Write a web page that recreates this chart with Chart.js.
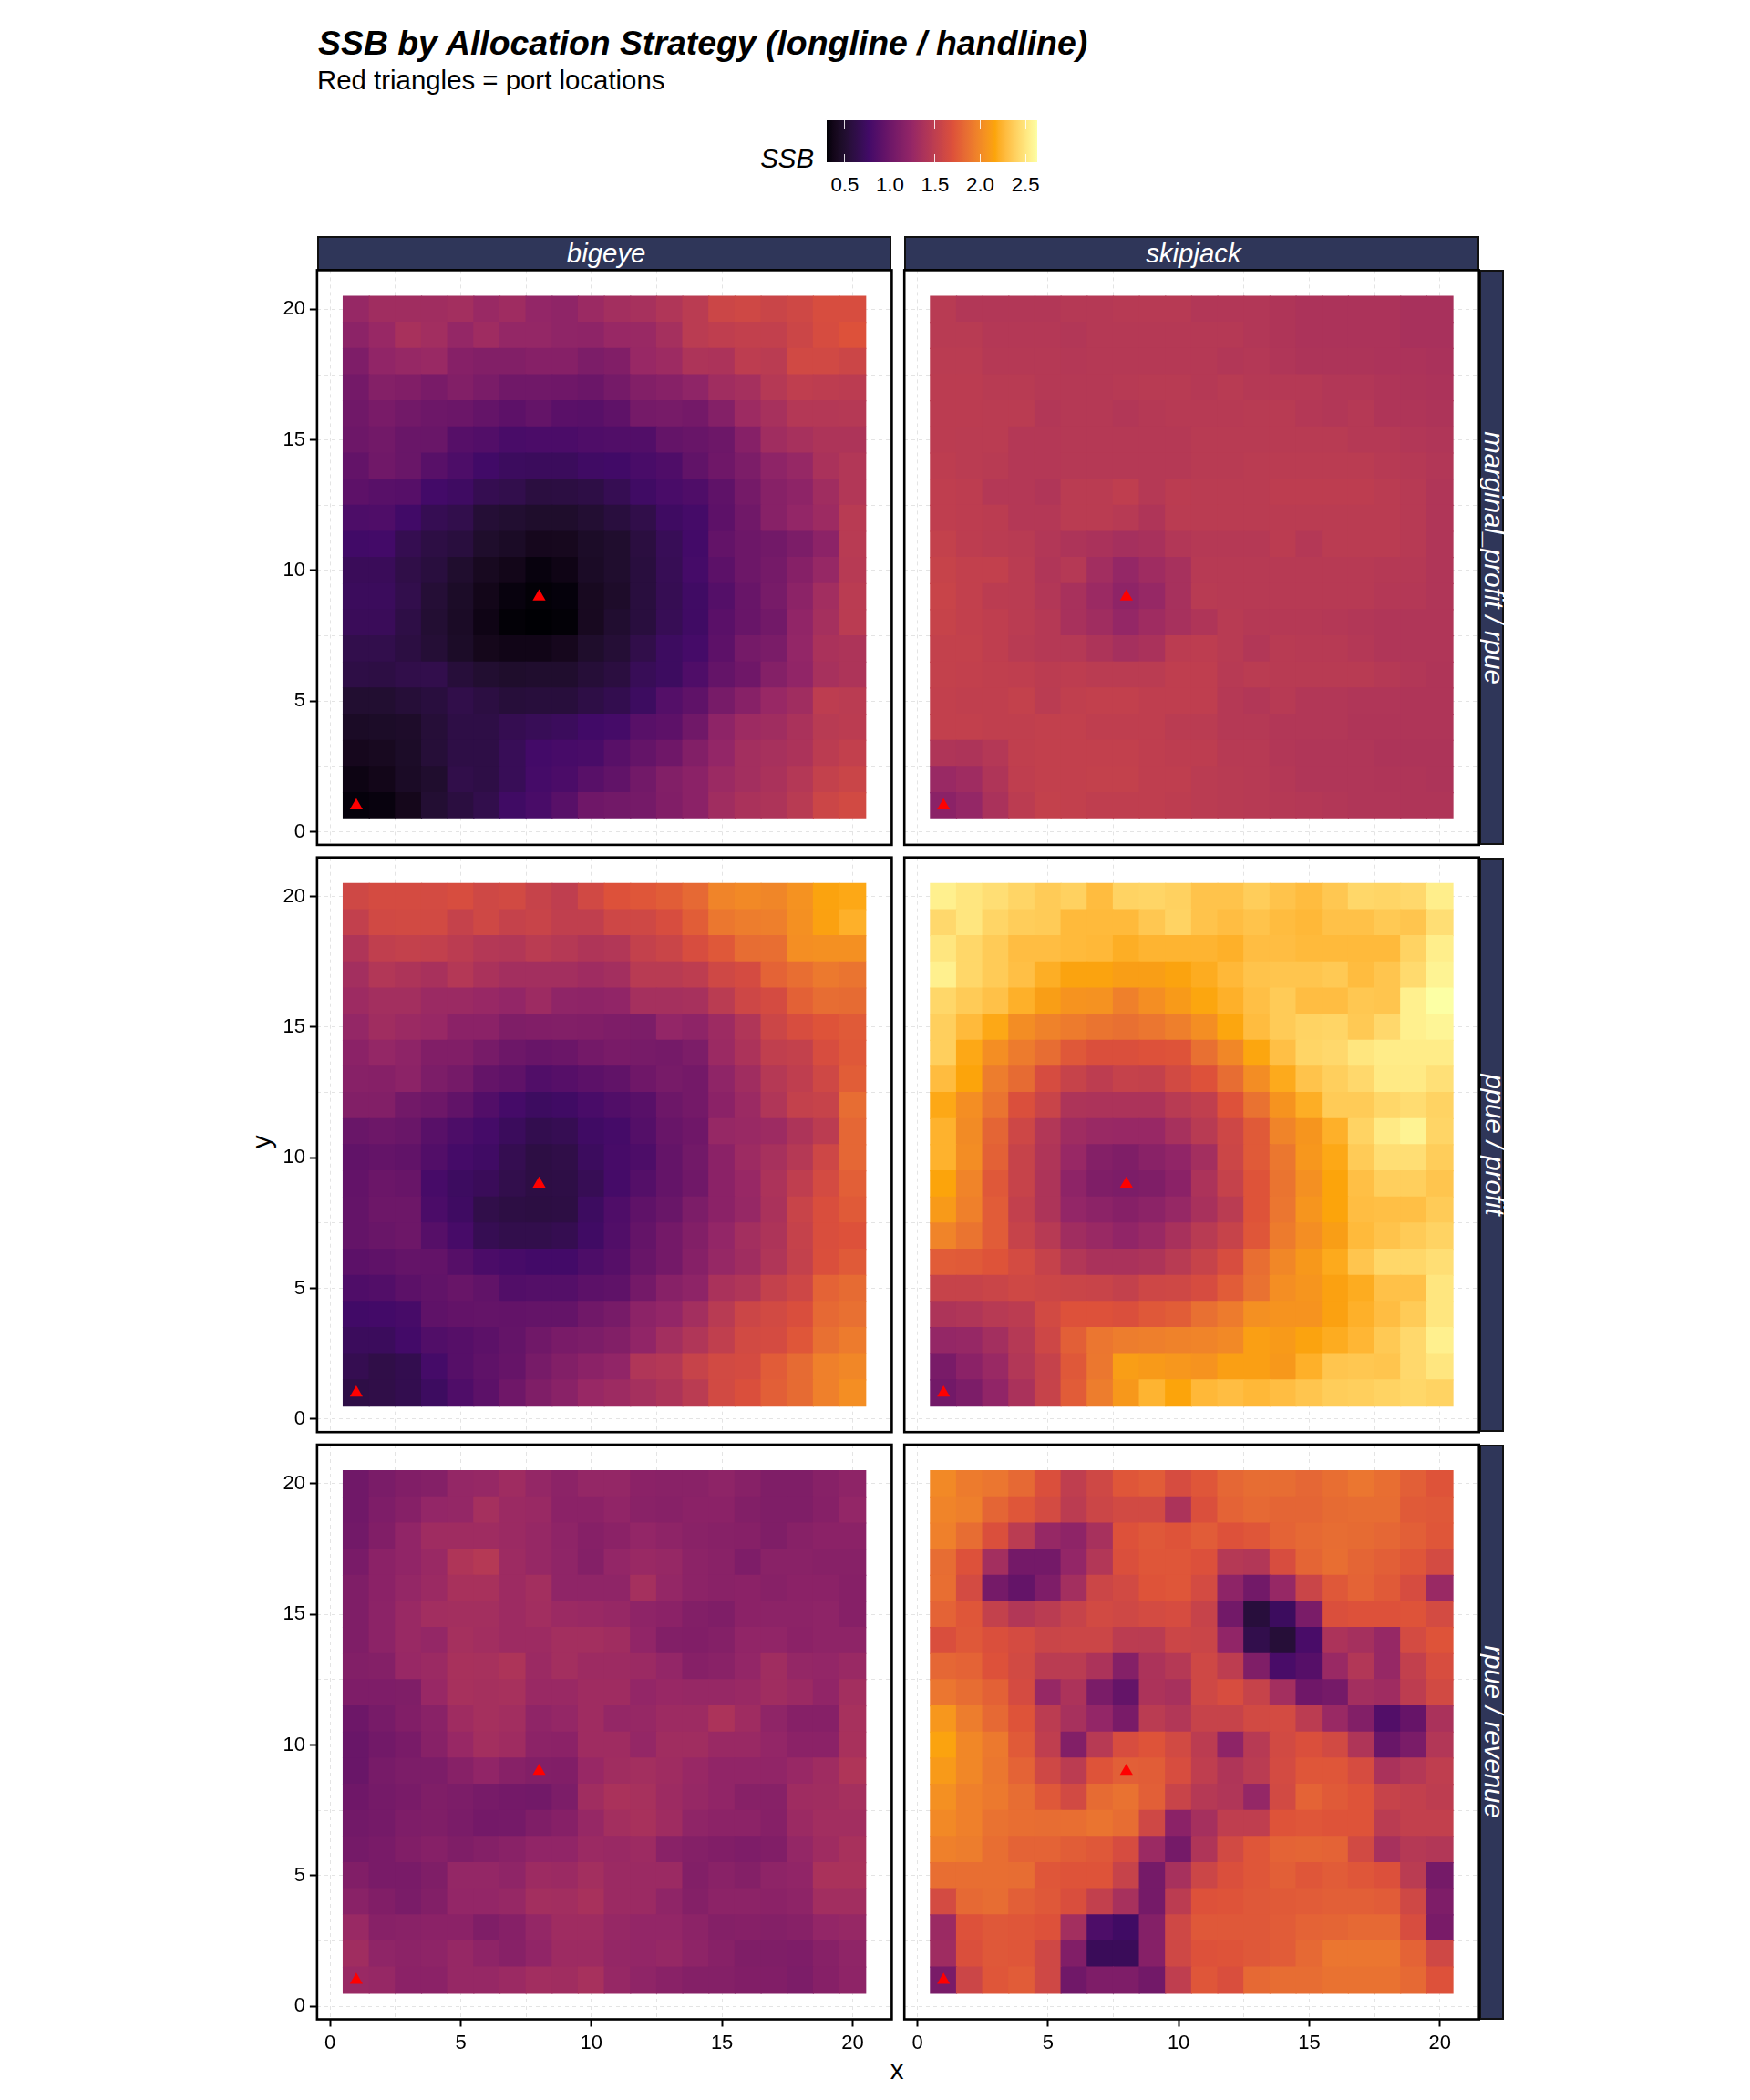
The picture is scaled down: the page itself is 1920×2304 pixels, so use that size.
<!DOCTYPE html>
<html><head><meta charset="utf-8">
<script src="https://cdn.jsdelivr.net/npm/chart.js@4/dist/chart.umd.js"></script>
<style>
html,body{margin:0;padding:0;background:#fff;}
body{position:relative;width:1920px;height:2304px;overflow:hidden;font-family:"Liberation Sans",Arial,sans-serif;color:#000;}
.t{position:absolute;white-space:nowrap;line-height:1;}
.strip{position:absolute;background:#2F3659;box-sizing:border-box;border:2px solid #111;color:#fff;font-style:italic;font-size:29.4px;display:flex;align-items:center;justify-content:center;white-space:nowrap;}
canvas{position:absolute;}
</style></head><body>
<script>
// ---------- data (rows run from y=20 at the top to y=1 at the bottom, columns x=1..20) ----------
const xCells=[1,2,3,4,5,6,7,8,9,10,11,12,13,14,15,16,17,18,19,20];
const yCells=[20,19,18,17,16,15,14,13,12,11,10,9,8,7,6,5,4,3,2,1];
const tickValues=[0,2.5,5,7.5,10,12.5,15,17.5,20];
const columnLabels=["bigeye","skipjack"];
const rowLabels=["marginal_profit / rpue","ppue / profit","rpue / revenue"];
const legendTicks=[0.5,1.0,1.5,2.0,2.5];
const legendDomain=[0.30,2.63];
const portsX=[1,8];
const portsY=[1,9];

const bigeyeMarginalProfitRpue=[
[1.25,1.31,1.31,1.31,1.33,1.27,1.30,1.23,1.21,1.28,1.33,1.35,1.41,1.47,1.58,1.60,1.57,1.60,1.66,1.66],
[1.19,1.26,1.36,1.32,1.24,1.30,1.24,1.24,1.21,1.20,1.26,1.27,1.34,1.47,1.50,1.52,1.52,1.58,1.65,1.70],
[1.10,1.22,1.25,1.27,1.15,1.13,1.13,1.15,1.15,1.09,1.12,1.26,1.29,1.39,1.38,1.49,1.47,1.61,1.61,1.58],
[1.04,1.14,1.12,1.07,1.13,1.08,1.02,1.02,1.01,0.99,1.05,1.13,1.16,1.21,1.31,1.34,1.44,1.50,1.49,1.48],
[1.02,1.07,1.03,1.00,0.99,0.95,0.91,0.95,0.89,0.88,0.92,1.05,1.06,1.04,1.14,1.29,1.35,1.43,1.43,1.44],
[1.00,1.03,0.98,0.98,0.87,0.85,0.80,0.81,0.81,0.83,0.84,0.85,0.95,0.97,1.00,1.15,1.31,1.35,1.39,1.39],
[0.94,1.02,0.98,0.88,0.82,0.76,0.72,0.71,0.71,0.75,0.76,0.80,0.83,0.93,1.01,1.09,1.20,1.25,1.37,1.42],
[0.91,0.88,0.87,0.77,0.74,0.66,0.64,0.58,0.59,0.61,0.67,0.75,0.80,0.83,0.92,1.05,1.16,1.20,1.31,1.42],
[0.82,0.83,0.76,0.67,0.64,0.53,0.51,0.48,0.48,0.52,0.57,0.63,0.74,0.78,0.91,1.02,1.16,1.23,1.29,1.46],
[0.76,0.77,0.66,0.60,0.57,0.48,0.45,0.40,0.41,0.46,0.49,0.58,0.69,0.77,0.94,1.00,1.03,1.09,1.19,1.46],
[0.70,0.70,0.62,0.57,0.49,0.42,0.38,0.33,0.36,0.45,0.49,0.57,0.68,0.78,0.90,1.00,1.05,1.15,1.25,1.45],
[0.71,0.71,0.64,0.53,0.46,0.38,0.33,0.31,0.32,0.42,0.47,0.57,0.67,0.75,0.86,0.97,1.06,1.19,1.32,1.47],
[0.70,0.70,0.61,0.52,0.45,0.36,0.31,0.30,0.31,0.42,0.50,0.57,0.68,0.75,0.89,0.97,1.03,1.22,1.34,1.47],
[0.64,0.64,0.59,0.53,0.46,0.39,0.37,0.37,0.40,0.48,0.53,0.63,0.73,0.78,0.91,1.05,1.08,1.23,1.37,1.39],
[0.61,0.60,0.63,0.64,0.55,0.51,0.48,0.49,0.49,0.54,0.58,0.69,0.73,0.83,0.95,1.01,1.14,1.22,1.35,1.39],
[0.51,0.51,0.54,0.57,0.63,0.59,0.55,0.56,0.56,0.61,0.65,0.73,0.86,0.92,1.06,1.16,1.26,1.31,1.49,1.47],
[0.45,0.46,0.47,0.54,0.61,0.61,0.66,0.69,0.71,0.76,0.78,0.88,0.91,1.02,1.20,1.29,1.31,1.37,1.46,1.48],
[0.40,0.42,0.46,0.54,0.61,0.61,0.69,0.77,0.79,0.80,0.88,0.95,1.01,1.13,1.23,1.33,1.35,1.38,1.48,1.52],
[0.35,0.38,0.45,0.49,0.63,0.61,0.69,0.78,0.81,0.88,0.93,1.03,1.13,1.18,1.28,1.33,1.37,1.43,1.53,1.57],
[0.32,0.33,0.39,0.52,0.58,0.64,0.75,0.80,0.88,1.01,1.03,1.05,1.12,1.18,1.31,1.37,1.39,1.46,1.58,1.62]];

const skipjackMarginalProfitRpue=[
[1.46,1.42,1.42,1.42,1.42,1.44,1.44,1.45,1.45,1.45,1.42,1.42,1.42,1.40,1.38,1.38,1.38,1.38,1.36,1.36],
[1.46,1.46,1.43,1.43,1.43,1.42,1.44,1.44,1.44,1.44,1.44,1.44,1.42,1.40,1.38,1.38,1.38,1.38,1.36,1.36],
[1.47,1.47,1.44,1.44,1.44,1.43,1.44,1.44,1.44,1.44,1.44,1.42,1.43,1.41,1.39,1.39,1.39,1.38,1.38,1.37],
[1.48,1.48,1.46,1.46,1.44,1.44,1.44,1.45,1.46,1.46,1.44,1.46,1.44,1.44,1.44,1.42,1.42,1.40,1.39,1.38],
[1.48,1.48,1.47,1.47,1.42,1.44,1.44,1.42,1.44,1.45,1.45,1.45,1.46,1.46,1.43,1.42,1.44,1.40,1.40,1.39],
[1.48,1.47,1.47,1.43,1.43,1.44,1.44,1.44,1.44,1.44,1.46,1.46,1.46,1.46,1.46,1.46,1.44,1.44,1.42,1.41],
[1.49,1.47,1.46,1.43,1.43,1.44,1.44,1.44,1.44,1.44,1.46,1.46,1.47,1.47,1.47,1.47,1.47,1.45,1.44,1.42],
[1.50,1.49,1.43,1.43,1.41,1.47,1.47,1.50,1.44,1.48,1.47,1.47,1.47,1.49,1.49,1.49,1.49,1.47,1.45,1.41],
[1.50,1.49,1.48,1.43,1.43,1.47,1.47,1.45,1.40,1.47,1.47,1.47,1.47,1.47,1.47,1.47,1.47,1.47,1.45,1.41],
[1.53,1.49,1.47,1.46,1.42,1.39,1.37,1.34,1.36,1.42,1.44,1.44,1.44,1.48,1.43,1.47,1.47,1.47,1.45,1.41],
[1.55,1.52,1.52,1.47,1.41,1.44,1.32,1.24,1.30,1.35,1.45,1.45,1.45,1.45,1.45,1.45,1.45,1.44,1.44,1.41],
[1.56,1.52,1.48,1.47,1.42,1.36,1.28,1.20,1.25,1.35,1.46,1.45,1.45,1.45,1.45,1.45,1.45,1.43,1.43,1.41],
[1.55,1.52,1.50,1.47,1.44,1.36,1.31,1.24,1.30,1.35,1.40,1.46,1.44,1.44,1.44,1.43,1.42,1.41,1.41,1.41],
[1.53,1.53,1.50,1.46,1.44,1.44,1.39,1.34,1.37,1.48,1.49,1.46,1.42,1.46,1.45,1.45,1.43,1.41,1.41,1.41],
[1.53,1.52,1.51,1.50,1.48,1.49,1.47,1.47,1.47,1.50,1.50,1.45,1.47,1.46,1.46,1.46,1.46,1.44,1.42,1.40],
[1.52,1.51,1.51,1.53,1.47,1.51,1.52,1.52,1.50,1.50,1.50,1.44,1.42,1.45,1.42,1.42,1.41,1.41,1.40,1.40],
[1.52,1.52,1.51,1.51,1.52,1.52,1.50,1.50,1.50,1.47,1.47,1.44,1.44,1.42,1.42,1.42,1.40,1.40,1.40,1.40],
[1.40,1.39,1.43,1.51,1.52,1.52,1.52,1.52,1.50,1.49,1.49,1.45,1.45,1.42,1.41,1.41,1.41,1.39,1.39,1.39],
[1.27,1.30,1.40,1.50,1.52,1.52,1.53,1.53,1.50,1.50,1.47,1.46,1.45,1.43,1.41,1.41,1.41,1.40,1.40,1.39],
[1.18,1.24,1.37,1.48,1.53,1.52,1.50,1.50,1.50,1.49,1.47,1.46,1.45,1.44,1.43,1.42,1.41,1.41,1.40,1.40]];

const bigeyePpueProfit=[
[1.60,1.64,1.64,1.63,1.66,1.60,1.62,1.55,1.50,1.61,1.70,1.72,1.76,1.82,1.97,2.00,1.98,2.05,2.15,2.18],
[1.52,1.61,1.62,1.62,1.54,1.60,1.54,1.56,1.51,1.51,1.59,1.60,1.66,1.76,1.90,1.93,1.94,2.04,2.14,2.22],
[1.40,1.51,1.53,1.52,1.48,1.43,1.42,1.47,1.44,1.40,1.42,1.53,1.57,1.66,1.73,1.84,1.85,2.03,2.04,2.04],
[1.33,1.42,1.39,1.36,1.43,1.37,1.33,1.33,1.33,1.30,1.33,1.46,1.46,1.49,1.60,1.64,1.79,1.85,1.91,1.88],
[1.29,1.33,1.33,1.28,1.28,1.26,1.23,1.29,1.21,1.20,1.22,1.34,1.34,1.35,1.47,1.59,1.64,1.78,1.84,1.83],
[1.24,1.31,1.28,1.26,1.18,1.18,1.11,1.12,1.13,1.12,1.10,1.09,1.23,1.20,1.29,1.41,1.58,1.66,1.71,1.74],
[1.18,1.24,1.20,1.12,1.12,1.06,1.00,0.97,0.99,1.04,1.07,1.06,1.05,1.09,1.28,1.38,1.51,1.53,1.66,1.73],
[1.16,1.15,1.19,1.09,1.05,0.95,0.92,0.84,0.87,0.90,0.93,1.01,1.06,1.04,1.21,1.31,1.44,1.50,1.60,1.76],
[1.13,1.13,1.03,1.00,0.93,0.85,0.78,0.73,0.75,0.80,0.84,0.88,1.00,1.04,1.18,1.28,1.41,1.53,1.55,1.84],
[0.98,1.00,0.98,0.88,0.82,0.78,0.71,0.65,0.67,0.75,0.78,0.86,0.97,1.01,1.25,1.27,1.29,1.39,1.48,1.81],
[0.93,0.95,0.93,0.85,0.78,0.75,0.66,0.60,0.62,0.72,0.79,0.82,0.95,1.03,1.18,1.29,1.35,1.44,1.59,1.81],
[0.94,0.99,0.97,0.79,0.73,0.70,0.64,0.60,0.61,0.68,0.78,0.86,0.95,1.02,1.18,1.26,1.38,1.50,1.63,1.77],
[0.95,1.00,1.00,0.81,0.74,0.63,0.60,0.59,0.60,0.73,0.83,0.92,0.98,1.09,1.18,1.25,1.37,1.56,1.67,1.74],
[0.95,0.98,1.00,0.87,0.79,0.67,0.64,0.64,0.66,0.75,0.84,0.95,1.04,1.13,1.23,1.33,1.39,1.54,1.67,1.70],
[0.90,0.92,0.95,0.94,0.87,0.81,0.79,0.77,0.77,0.82,0.87,0.97,1.04,1.15,1.25,1.31,1.41,1.53,1.68,1.74],
[0.83,0.85,0.90,0.93,0.97,0.93,0.85,0.86,0.86,0.90,0.92,1.04,1.16,1.20,1.37,1.41,1.53,1.59,1.79,1.83],
[0.76,0.77,0.79,0.92,0.94,0.95,0.94,0.95,0.95,1.02,1.06,1.19,1.23,1.33,1.46,1.58,1.62,1.67,1.82,1.86],
[0.71,0.71,0.77,0.84,0.87,0.90,0.95,1.02,1.07,1.09,1.13,1.22,1.33,1.41,1.51,1.62,1.64,1.72,1.86,1.92],
[0.66,0.62,0.65,0.78,0.87,0.92,0.96,1.06,1.13,1.18,1.22,1.41,1.43,1.55,1.62,1.64,1.75,1.83,1.95,1.99],
[0.61,0.62,0.65,0.73,0.83,0.90,1.01,1.11,1.17,1.26,1.29,1.34,1.39,1.47,1.62,1.68,1.77,1.83,1.95,2.03]];

const skipjackPpueProfit=[
[2.55,2.50,2.46,2.41,2.36,2.39,2.28,2.40,2.41,2.39,2.32,2.32,2.37,2.32,2.28,2.34,2.42,2.41,2.43,2.54],
[2.43,2.50,2.41,2.37,2.36,2.27,2.27,2.27,2.34,2.40,2.32,2.29,2.32,2.28,2.26,2.31,2.31,2.35,2.33,2.46],
[2.50,2.42,2.36,2.29,2.29,2.27,2.26,2.21,2.24,2.24,2.24,2.22,2.29,2.29,2.27,2.27,2.27,2.27,2.40,2.54],
[2.55,2.42,2.36,2.30,2.21,2.15,2.15,2.12,2.12,2.15,2.20,2.26,2.32,2.33,2.33,2.35,2.28,2.33,2.44,2.57],
[2.42,2.36,2.31,2.22,2.12,2.06,2.05,1.95,2.03,2.10,2.17,2.22,2.30,2.36,2.29,2.29,2.34,2.33,2.55,2.63],
[2.38,2.27,2.18,2.02,1.96,1.92,1.88,1.86,1.89,1.94,2.03,2.17,2.28,2.36,2.40,2.41,2.35,2.43,2.55,2.58],
[2.38,2.18,2.03,1.92,1.84,1.73,1.68,1.68,1.70,1.71,1.86,1.99,2.17,2.30,2.41,2.43,2.50,2.53,2.53,2.53],
[2.28,2.16,1.93,1.83,1.65,1.55,1.49,1.54,1.53,1.62,1.70,1.84,2.02,2.19,2.32,2.38,2.43,2.52,2.52,2.47],
[2.18,2.03,1.88,1.68,1.56,1.39,1.38,1.38,1.38,1.46,1.51,1.70,1.87,2.06,2.21,2.36,2.36,2.42,2.45,2.40],
[2.23,2.01,1.80,1.59,1.42,1.30,1.27,1.26,1.26,1.35,1.46,1.59,1.74,1.97,2.07,2.22,2.40,2.52,2.57,2.41],
[2.23,2.02,1.78,1.55,1.40,1.26,1.14,1.11,1.17,1.22,1.33,1.58,1.74,1.90,2.08,2.18,2.36,2.46,2.46,2.37],
[2.16,1.97,1.73,1.55,1.39,1.20,1.11,1.09,1.11,1.18,1.38,1.54,1.71,1.88,2.04,2.16,2.30,2.38,2.38,2.33],
[2.10,1.95,1.75,1.52,1.39,1.23,1.19,1.15,1.19,1.25,1.36,1.47,1.71,1.89,2.07,2.16,2.29,2.30,2.30,2.36],
[1.97,1.88,1.75,1.55,1.45,1.31,1.27,1.22,1.27,1.36,1.46,1.55,1.72,1.92,2.03,2.12,2.27,2.32,2.36,2.40],
[1.75,1.74,1.71,1.63,1.54,1.42,1.37,1.37,1.39,1.46,1.55,1.66,1.85,1.99,2.09,2.19,2.33,2.42,2.42,2.46],
[1.55,1.55,1.57,1.60,1.58,1.57,1.56,1.53,1.59,1.60,1.65,1.75,1.87,2.03,2.07,2.14,2.20,2.31,2.31,2.50],
[1.39,1.41,1.45,1.48,1.62,1.70,1.70,1.68,1.73,1.76,1.86,1.92,2.04,2.06,2.06,2.14,2.22,2.29,2.36,2.50],
[1.24,1.25,1.33,1.44,1.59,1.77,1.89,1.93,1.94,1.96,1.97,2.00,2.13,2.10,2.15,2.20,2.25,2.35,2.43,2.55],
[1.07,1.18,1.27,1.42,1.54,1.73,1.90,2.12,2.10,2.08,2.06,2.13,2.13,2.09,2.22,2.33,2.34,2.33,2.43,2.50],
[1.03,1.09,1.22,1.37,1.55,1.75,1.93,2.09,2.24,2.16,2.26,2.29,2.26,2.29,2.33,2.37,2.38,2.40,2.42,2.40]];

const bigeyeRpueRevenue=[
[1.02,1.08,1.12,1.14,1.24,1.25,1.30,1.24,1.19,1.24,1.24,1.18,1.17,1.17,1.20,1.16,1.11,1.11,1.16,1.20],
[1.02,1.10,1.15,1.23,1.24,1.34,1.28,1.27,1.18,1.18,1.22,1.17,1.16,1.18,1.18,1.13,1.11,1.11,1.15,1.23],
[1.03,1.12,1.22,1.30,1.30,1.30,1.28,1.25,1.20,1.15,1.18,1.23,1.20,1.17,1.16,1.15,1.11,1.16,1.18,1.18],
[1.07,1.18,1.22,1.27,1.40,1.44,1.29,1.25,1.21,1.14,1.23,1.27,1.25,1.19,1.17,1.10,1.17,1.17,1.16,1.16],
[1.11,1.18,1.24,1.28,1.36,1.36,1.29,1.33,1.21,1.21,1.21,1.34,1.24,1.19,1.17,1.18,1.16,1.18,1.18,1.15],
[1.11,1.19,1.27,1.32,1.33,1.33,1.29,1.32,1.28,1.27,1.25,1.20,1.18,1.13,1.11,1.18,1.19,1.19,1.20,1.15],
[1.11,1.19,1.27,1.24,1.34,1.32,1.29,1.29,1.33,1.33,1.31,1.22,1.13,1.12,1.14,1.22,1.22,1.18,1.20,1.20],
[1.13,1.14,1.26,1.28,1.36,1.35,1.39,1.28,1.33,1.29,1.29,1.28,1.23,1.15,1.17,1.23,1.31,1.24,1.23,1.27],
[1.10,1.10,1.11,1.26,1.35,1.34,1.35,1.27,1.27,1.30,1.30,1.23,1.26,1.25,1.25,1.27,1.31,1.28,1.22,1.33],
[1.00,1.06,1.12,1.17,1.30,1.34,1.32,1.21,1.24,1.30,1.24,1.25,1.29,1.29,1.38,1.30,1.21,1.15,1.15,1.35],
[0.98,1.03,1.07,1.16,1.26,1.33,1.30,1.19,1.18,1.30,1.30,1.24,1.31,1.31,1.27,1.27,1.23,1.18,1.18,1.36],
[0.98,1.06,1.09,1.09,1.16,1.22,1.16,1.13,1.12,1.26,1.31,1.33,1.30,1.26,1.22,1.22,1.22,1.26,1.30,1.40],
[1.01,1.05,1.07,1.11,1.09,1.06,1.04,1.03,1.09,1.31,1.37,1.35,1.29,1.25,1.22,1.16,1.16,1.30,1.31,1.34],
[1.03,1.05,1.10,1.11,1.08,1.04,1.05,1.11,1.15,1.25,1.33,1.36,1.30,1.21,1.19,1.19,1.15,1.28,1.32,1.32],
[1.05,1.07,1.12,1.15,1.11,1.14,1.17,1.22,1.22,1.28,1.27,1.29,1.17,1.14,1.12,1.10,1.12,1.24,1.30,1.36],
[1.12,1.07,1.07,1.11,1.24,1.24,1.21,1.29,1.28,1.33,1.28,1.28,1.28,1.13,1.17,1.14,1.20,1.22,1.37,1.37],
[1.17,1.12,1.08,1.13,1.23,1.23,1.25,1.33,1.32,1.36,1.28,1.28,1.21,1.14,1.19,1.19,1.18,1.20,1.32,1.32],
[1.27,1.16,1.17,1.18,1.18,1.11,1.15,1.24,1.30,1.30,1.25,1.23,1.23,1.19,1.14,1.15,1.14,1.16,1.23,1.25],
[1.31,1.21,1.19,1.20,1.25,1.20,1.16,1.22,1.29,1.29,1.24,1.23,1.25,1.20,1.16,1.11,1.11,1.10,1.16,1.21],
[1.27,1.25,1.18,1.18,1.25,1.25,1.28,1.32,1.31,1.35,1.25,1.21,1.17,1.14,1.14,1.12,1.12,1.09,1.15,1.20]];

const skipjackRpueRevenue=[
[2.00,1.92,1.89,1.82,1.68,1.50,1.60,1.72,1.75,1.65,1.72,1.81,1.84,1.84,1.81,1.85,1.89,1.85,1.77,1.71],
[1.97,1.94,1.80,1.72,1.63,1.48,1.58,1.62,1.62,1.38,1.68,1.79,1.82,1.80,1.80,1.83,1.84,1.84,1.74,1.73],
[1.95,1.84,1.68,1.47,1.25,1.20,1.35,1.70,1.73,1.71,1.75,1.70,1.72,1.79,1.82,1.84,1.83,1.81,1.77,1.72],
[1.84,1.70,1.33,1.04,1.04,1.23,1.42,1.68,1.72,1.72,1.69,1.44,1.42,1.66,1.80,1.85,1.80,1.77,1.72,1.63],
[1.85,1.63,1.05,0.95,1.10,1.33,1.58,1.62,1.71,1.72,1.63,1.20,1.03,1.25,1.57,1.73,1.79,1.74,1.65,1.27],
[1.79,1.72,1.53,1.42,1.47,1.55,1.62,1.60,1.63,1.65,1.55,1.03,0.56,0.72,1.08,1.68,1.70,1.70,1.71,1.63],
[1.67,1.73,1.68,1.64,1.57,1.58,1.58,1.48,1.47,1.58,1.57,1.22,0.64,0.54,0.80,1.38,1.34,1.25,1.63,1.71],
[1.81,1.79,1.70,1.62,1.47,1.47,1.38,1.14,1.38,1.44,1.60,1.49,1.11,0.80,0.87,1.27,1.42,1.25,1.52,1.66],
[1.89,1.84,1.78,1.64,1.25,1.38,1.08,0.95,1.38,1.35,1.60,1.66,1.55,1.33,1.01,1.05,1.33,1.30,1.49,1.62],
[2.08,1.93,1.82,1.71,1.48,1.35,1.23,1.07,1.47,1.42,1.55,1.55,1.62,1.63,1.48,1.27,1.13,0.85,0.96,1.37],
[2.15,1.99,1.91,1.74,1.50,1.13,1.45,1.66,1.71,1.62,1.48,1.20,1.45,1.62,1.68,1.62,1.40,0.98,1.08,1.42],
[2.10,1.99,1.90,1.79,1.60,1.48,1.71,1.77,1.76,1.66,1.50,1.40,1.47,1.63,1.72,1.72,1.65,1.37,1.43,1.50],
[2.04,1.95,1.91,1.84,1.73,1.62,1.83,1.87,1.77,1.56,1.44,1.41,1.24,1.62,1.79,1.74,1.71,1.55,1.52,1.49],
[2.00,1.95,1.87,1.85,1.84,1.85,1.88,1.84,1.60,1.18,1.34,1.50,1.50,1.71,1.72,1.71,1.71,1.47,1.52,1.52],
[1.95,1.93,1.85,1.79,1.79,1.76,1.73,1.65,1.28,1.05,1.40,1.62,1.72,1.79,1.80,1.79,1.62,1.35,1.44,1.42],
[1.85,1.85,1.85,1.84,1.72,1.71,1.71,1.55,1.05,1.35,1.58,1.68,1.72,1.77,1.72,1.75,1.72,1.69,1.47,1.05],
[1.63,1.82,1.84,1.77,1.73,1.67,1.52,1.35,1.05,1.48,1.70,1.71,1.73,1.74,1.75,1.77,1.77,1.75,1.60,1.10],
[1.28,1.70,1.73,1.72,1.70,1.33,0.82,0.75,1.14,1.60,1.73,1.73,1.73,1.75,1.79,1.80,1.82,1.82,1.66,1.07],
[1.30,1.68,1.73,1.72,1.60,1.12,0.70,0.70,1.15,1.60,1.70,1.71,1.73,1.75,1.82,1.89,1.89,1.89,1.79,1.60],
[1.07,1.58,1.72,1.75,1.60,1.02,1.10,1.10,1.03,1.50,1.72,1.67,1.82,1.84,1.84,1.87,1.87,1.87,1.82,1.70]];

const panelValues=[[bigeyeMarginalProfitRpue,skipjackMarginalProfitRpue],[bigeyePpueProfit,skipjackPpueProfit],[bigeyeRpueRevenue,skipjackRpueRevenue]];

// ---------- colour scale: six inferno anchors interpolated in Lab ----------
const anchors=["#000004","#420A68","#932667","#DD513A","#FCA50A","#FCFFA4"];
function rgb2lab(h){
  const c=[1,3,5].map(i=>parseInt(h.substr(i,2),16)/255).map(v=>v<=0.04045?v/12.92:Math.pow((v+0.055)/1.055,2.4));
  const X=(0.4124*c[0]+0.3576*c[1]+0.1805*c[2])/0.95047,Y=0.2126*c[0]+0.7152*c[1]+0.0722*c[2],Z=(0.0193*c[0]+0.1192*c[1]+0.9505*c[2])/1.08883;
  const f=t=>t>0.008856?Math.cbrt(t):7.787*t+16/116;
  return [116*f(Y)-16,500*(f(X)-f(Y)),200*(f(Y)-f(Z))];
}
function lab2css(L,a,b){
  const y=(L+16)/116,x=a/500+y,z=y-b/200,g=t=>t*t*t>0.008856?t*t*t:(t-16/116)/7.787;
  const X=g(x)*0.95047,Y=g(y),Z=g(z)*1.08883;
  const l=[3.2406*X-1.5372*Y-0.4986*Z,-0.9689*X+1.8758*Y+0.0415*Z,0.0557*X-0.2040*Y+1.0570*Z];
  const o=l.map(v=>Math.round(255*Math.min(1,Math.max(0,v<=0.0031308?12.92*v:1.055*Math.pow(Math.max(v,0),1/2.4)-0.055))));
  return `rgb(${o[0]},${o[1]},${o[2]})`;
}
const labAnchors=anchors.map(rgb2lab);
function colorFor(v){
  let t=(v-legendDomain[0])/(legendDomain[1]-legendDomain[0]);t=Math.min(1,Math.max(0,t))*5;
  const i=Math.min(4,Math.floor(t)),f=t-i,A=labAnchors[i],B=labAnchors[i+1];
  return lab2css(A[0]+(B[0]-A[0])*f,A[1]+(B[1]-A[1])*f,A[2]+(B[2]-A[2])*f);
}

// ---------- layout ----------
const PANEL_W=630.5,PANEL_H=630.5;
const colLeft=[347.9,992.2];
const rowTop=[296.4,940.7,1585.0];
function text(s,x,y,style,anchor){
  const d=document.createElement('div');d.className='t';d.textContent=s;
  d.style.left=x+'px';d.style.top=y+'px';Object.assign(d.style,style||{});
  d.style.transform=anchor||'translate(0,-50%)';document.body.appendChild(d);return d;
}
text("SSB by Allocation Strategy (longline / handline)",349,47,{font:'italic bold 37.4px "Liberation Sans"'});
text("Red triangles = port locations",348,88,{font:'29.4px "Liberation Sans"'});
text("x",984,2271,{font:'29.4px "Liberation Sans"'},'translate(-50%,-50%)');
text("y",287,1253,{font:'29.4px "Liberation Sans"'},'translate(-50%,-50%) rotate(-90deg)');

// legend
const LEG={x:907,y:132,w:231,h:46};
const bar=document.createElement('div');
const stops=[];for(let i=0;i<=60;i++){stops.push(colorFor(legendDomain[0]+(legendDomain[1]-legendDomain[0])*i/60));}
Object.assign(bar.style,{position:'absolute',left:LEG.x+'px',top:LEG.y+'px',width:LEG.w+'px',height:LEG.h+'px',background:`linear-gradient(to right,${stops.join(',')})`});
document.body.appendChild(bar);
legendTicks.forEach(v=>{
  const px=LEG.x+(v-legendDomain[0])/(legendDomain[1]-legendDomain[0])*LEG.w;
  [LEG.y,LEG.y+LEG.h-9.2].forEach(y=>{const m=document.createElement('div');
    Object.assign(m.style,{position:'absolute',left:(px-0.5)+'px',top:y+'px',width:'1px',height:'9.2px',background:'rgba(255,255,255,.85)'});document.body.appendChild(m);});
  text(v.toFixed(1),px,203,{font:'22.2px "Liberation Sans"'},'translate(-50%,-50%)');
});
text("SSB",893,174,{font:'italic 29.4px "Liberation Sans"'},'translate(-100%,-50%)');

// strips
columnLabels.forEach((s,c)=>{const d=document.createElement('div');d.className='strip';d.textContent=s;
  Object.assign(d.style,{left:colLeft[c]+'px',top:'259px',width:PANEL_W+'px',height:'37.5px',paddingLeft:'4px'});document.body.appendChild(d);});
rowLabels.forEach((s,r)=>{const d=document.createElement('div');d.className='strip';
  Object.assign(d.style,{left:'1623px',top:rowTop[r]+'px',width:'26.5px',height:PANEL_H+'px'});
  const sp=document.createElement('span');sp.textContent=s;sp.style.display='inline-block';sp.style.transform='translateX(3px) rotate(90deg)';d.appendChild(sp);document.body.appendChild(d);});

// ---------- panels ----------
const panelBorder={id:'panelBorder',afterDraw(chart){const a=chart.chartArea,g=chart.ctx;g.save();g.lineWidth=2.6;g.strokeStyle='#000';g.strokeRect(a.left,a.top,a.right-a.left,a.bottom-a.top);g.restore();}};
const ML=60,MB=60,MT=6,MR=6;
const CELL_RADIUS=(PANEL_W/22+1.2)*Math.SQRT1_2;
rowTop.forEach((top,r)=>colLeft.forEach((left,c)=>{
  const L=Math.floor(left-ML),T=Math.floor(top-MT);
  const W=Math.ceil(left+PANEL_W+MR)-L,H=Math.ceil(top+PANEL_H+MB)-T;
  const cv=document.createElement('canvas');cv.width=W;cv.height=H;cv.style.left=L+'px';cv.style.top=T+'px';document.body.appendChild(cv);
  const rows=panelValues[r][c],cells=[];
  yCells.forEach((y,j)=>xCells.forEach((x,i)=>cells.push({x,y,v:rows[j][i]})));
  const showX=r===2,showY=c===0;
  const common=(show)=>({
    type:'linear',min:-0.5,max:21.5,
    afterBuildTicks:s=>{s.ticks=tickValues.map(value=>({value}));},
    grid:{color:'#e4e4e4',lineWidth:1,drawTicks:true,tickLength:8,tickWidth:2,
      tickColor:ctx=>(show&&ctx.tick&&ctx.tick.value%5===0)?'#000':'rgba(0,0,0,0)'},
    border:{display:false,dash:[4,4]},
    ticks:{display:show,autoSkip:false,maxRotation:0,minRotation:0,padding:show?5:0,color:'#000',font:{family:'"Liberation Sans"',size:22},
      callback:v=>v%5===0?String(v):''}
  });
  const xs=common(showX),ys=common(showY);
  const noPad=s=>{s.paddingLeft=s.paddingRight=s.paddingTop=s.paddingBottom=0;};
  xs.afterFit=s=>{s.height=MB;noPad(s);};ys.afterFit=s=>{s.width=ML;noPad(s);};
  new Chart(cv,{
    type:'scatter',
    data:{datasets:[
      {label:'ports',order:0,data:portsX.map((x,k)=>({x,y:portsY[k]})),pointStyle:'triangle',pointRadius:8.2,pointBackgroundColor:'#ff0000',pointBorderWidth:0},
      {label:'SSB',order:1,data:cells,pointStyle:'rect',pointRadius:CELL_RADIUS,
       pointBackgroundColor:ctx=>ctx.raw?colorFor(ctx.raw.v):'#000',pointBorderWidth:0}
    ]},
    options:{responsive:false,animation:false,events:[],devicePixelRatio:1,
      layout:{autoPadding:false,padding:{left:left-ML-L,top:top-T,right:W-(left-L)-PANEL_W,bottom:H-(top-T)-PANEL_H-MB}},
      plugins:{legend:{display:false},tooltip:{enabled:false},title:{display:false}},
      scales:{x:xs,y:ys}},
    plugins:[panelBorder]
  });
}));
</script>
</body></html>
